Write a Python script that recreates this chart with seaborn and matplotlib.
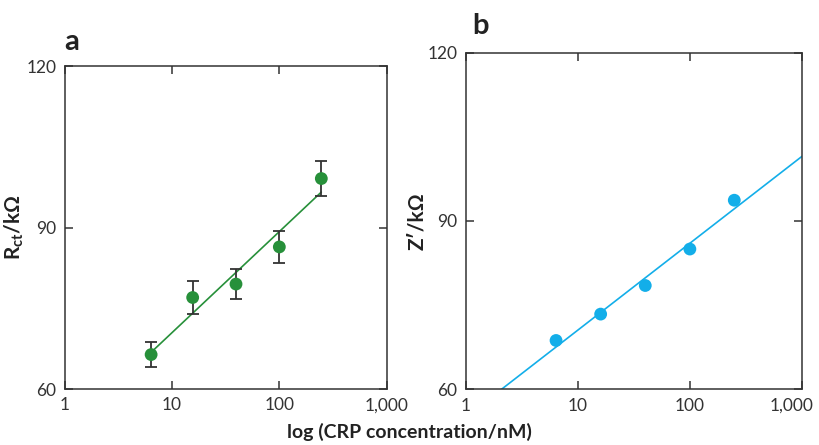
import matplotlib
matplotlib.use("Agg")
import matplotlib.pyplot as plt
import matplotlib.ticker as mticker
import matplotlib.transforms as mtransforms
import seaborn as sns
import numpy as np
import pandas as pd

# ---------- data ----------
conc = [6.4, 15.6, 39.5, 100, 246]
rct = [66.4, 77.0, 79.5, 86.4, 99.1]
rct_err = [2.3, 3.0, 2.8, 3.0, 3.2]

conc_b = [6.4, 16, 40, 100, 249]
zre = [68.7, 73.4, 78.5, 85.0, 93.7]

xticks = [1, 10, 100, 1000]
xtick_labels = ["1", "10", "100", "1,000"]
yticks = [60, 90, 120]

green = "#27903a"
blue = "#13aee9"

sns.set_style("ticks")
plt.rcParams["font.family"] = ["Lato", "DejaVu Sans"]
plt.rcParams["mathtext.fontset"] = "custom"
plt.rcParams["mathtext.bf"] = "Lato:bold"
plt.rcParams["mathtext.rm"] = "Lato"
plt.rcParams["axes.edgecolor"] = "#333333"
plt.rcParams["axes.linewidth"] = 1.1

df_a = pd.DataFrame({"conc": conc, "rct": rct, "err": rct_err})
df_b = pd.DataFrame({"conc": conc_b, "z": zre})

fig = plt.figure(figsize=(8.19, 4.45), dpi=100)
ax_a = fig.add_axes([0.0788, 0.1258, 0.3934, 0.7258])
ax_b = fig.add_axes([0.5686, 0.1252, 0.4106, 0.7564])


def style_axes(ax):
    ax.set_xscale("log")
    ax.set_xlim(1, 1000)
    ax.set_ylim(60, 120)
    ax.set_xticks(xticks)
    ax.set_xticklabels(xtick_labels)
    ax.set_yticks(yticks)
    ax.xaxis.set_minor_locator(mticker.NullLocator())
    ax.tick_params(direction="in", top=True, right=True, length=6, width=1.1,
                   color="#333333", labelsize=12.5, labelcolor="#333333", pad=6)
    for s in ax.spines.values():
        s.set_visible(True)
    ax.set_xlabel("")


# ---------- panel a ----------
style_axes(ax_a)
sns.regplot(data=df_a, x="conc", y="rct", logx=True, ci=None, scatter=False,
            truncate=True, color=green, line_kws={"lw": 1.2}, ax=ax_a)
ax_a.errorbar(df_a["conc"], df_a["rct"], yerr=df_a["err"], fmt="none",
              ecolor="#333333", elinewidth=1.3, capsize=4, capthick=1.3, zorder=3)
sns.scatterplot(data=df_a, x="conc", y="rct", color=green, s=85,
                edgecolor="none", zorder=4, ax=ax_a)
style_axes(ax_a)
ax_a.set_ylabel(r"R$_{\mathbf{ct}}$/k$\mathbf{\Omega}$", fontsize=15,
                fontweight="bold", labelpad=0, color="#222222")
ax_a.text(0.0, 1.035, "a", transform=ax_a.transAxes, fontsize=21,
          fontweight="bold", va="bottom", ha="left", color="#222222")

# ---------- panel b ----------
style_axes(ax_b)
sns.regplot(data=df_b, x="conc", y="z", logx=True, ci=None, scatter=False,
            truncate=False, color=blue, line_kws={"lw": 1.2}, ax=ax_b)
sns.scatterplot(data=df_b, x="conc", y="z", color=blue, s=85,
                edgecolor="none", zorder=4, ax=ax_b)
style_axes(ax_b)
ax_b.set_ylabel("Z\u2032/k\u03a9", fontsize=15, fontweight="bold", labelpad=0,
                color="#222222")
ax_b.text(0.02, 1.04, "b", transform=ax_b.transAxes, fontsize=21,
          fontweight="bold", va="bottom", ha="left", color="#222222")

# last tick label of panel b sits a little left so it stays inside the figure
last = ax_b.get_xticklabels()[-1]
last.set_transform(last.get_transform() +
                   mtransforms.ScaledTranslation(-10 / 100, 0, fig.dpi_scale_trans))

fig.text(0.5, 0.03, "log (CRP concentration/nM)", ha="center", va="center",
         fontsize=14, fontweight="bold", color="#222222")

plt.savefig("out.png", dpi=100)
